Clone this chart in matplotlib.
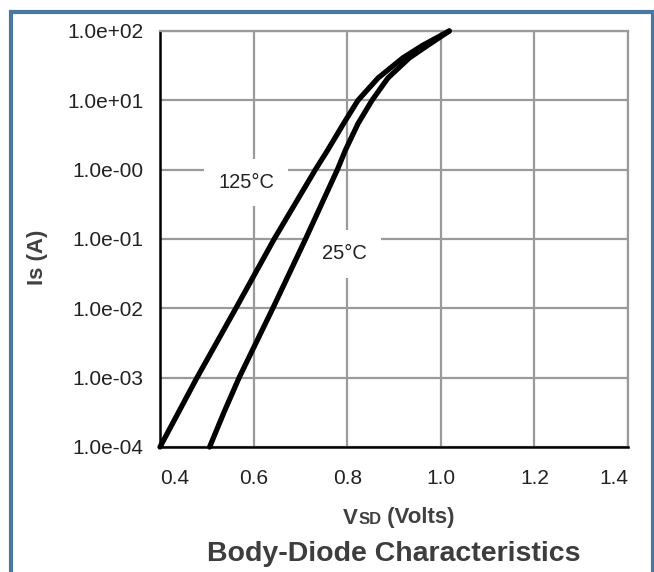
import numpy as np
import matplotlib
matplotlib.use("Agg")
import matplotlib.pyplot as plt
from matplotlib.patches import Rectangle
from matplotlib.offsetbox import TextArea, HPacker, AnnotationBbox

plt.rcParams["font.family"] = ["Liberation Sans", "DejaVu Sans"]

# curves: Is (A) vs VSD (V)
is_125 = [1e-4, 1e-3, 1e-2, 1e-1, 1e0, 1.9, 4.6, 10, 21, 41, 62, 100]
vsd_125 = [0.400, 0.479, 0.562, 0.644, 0.732, 0.758, 0.792, 0.823, 0.866, 0.919, 0.961, 1.018]
is_25 = [1e-4, 3.2e-4, 1e-3, 1e-2, 1e-1, 1e0, 1.9, 4.6, 10, 21, 41, 62, 100]
vsd_25 = [0.506, 0.537, 0.569, 0.641, 0.711, 0.779, 0.796, 0.823, 0.853, 0.887, 0.933, 0.972, 1.018]

x_ticks = [0.4, 0.6, 0.8, 1.0, 1.2, 1.4]
x_labels = ["0.4", "0.6", "0.8", "1.0", "1.2", "1.4"]
y_ticks = [1e-4, 1e-3, 1e-2, 1e-1, 1e0, 1e1, 1e2]
y_labels = ["1.0e-04", "1.0e-03", "1.0e-02", "1.0e-01", "1.0e-00", "1.0e+01", "1.0e+02"]

W, H = 654, 572
fig = plt.figure(figsize=(W / 100, H / 100), dpi=100)
ax = fig.add_axes([160 / W, 1 - 447 / H, 468 / W, 416 / H])

grid_c = "#9a9a9a"
txt_c = "#222222"
lab_c = "#404040"

ax.set_yscale("log")
ax.set_xlim(0.4, 1.4)
ax.set_ylim(1e-4, 1e2)
ax.set_xticks(x_ticks)
ax.set_xticklabels(x_labels)
ax.set_yticks(y_ticks)
ax.set_yticklabels(y_labels)
ax.yaxis.set_minor_locator(matplotlib.ticker.NullLocator())
ax.tick_params(axis="both", length=0, labelsize=15, labelcolor=txt_c)
ax.tick_params(axis="x", pad=16)
ax.tick_params(axis="y", pad=12)
tl = ax.get_xticklabels()
tl[0].set_ha("left")
tl[-1].set_ha("right")

ax.grid(True, color=grid_c, lw=1.6, zorder=0)
ax.set_axisbelow(True)
for s in ("top", "right"):
    ax.spines[s].set_color(grid_c)
    ax.spines[s].set_linewidth(1.6)
for s in ("left", "bottom"):
    ax.spines[s].set_color("black")
    ax.spines[s].set_linewidth(1.8)

ax.plot(vsd_125, is_125, color="black", lw=3.8, solid_capstyle="round",
        solid_joinstyle="round", zorder=3, clip_on=False)
ax.plot(vsd_25, is_25, color="black", lw=3.8, solid_capstyle="round",
        solid_joinstyle="round", zorder=3, clip_on=False)

box = dict(boxstyle="square,pad=0.7", fc="white", ec="none")
ax.text(0.584, 0.65, "125°C", fontsize=14.5, ha="center", va="center",
        color=txt_c, bbox=box, zorder=2)
ax.text(0.795, 0.0608, "25°C", fontsize=14.5, ha="center", va="center",
        color=txt_c, bbox=box, zorder=2)

fig.text(37 / W, 1 - 257 / H, "Is (A)", fontsize=16, fontweight="bold",
         color=lab_c, rotation=90, ha="center", va="center")

# x label with small "SD"
parts = [
    TextArea("V", textprops=dict(fontsize=16, fontweight="bold", color=lab_c)),
    TextArea("SD", textprops=dict(fontsize=12, fontweight="bold", color=lab_c)),
    TextArea(" (Volts)", textprops=dict(fontsize=16, fontweight="bold", color=lab_c)),
]
pack = HPacker(children=parts, align="baseline", pad=0, sep=0)
ab = AnnotationBbox(pack, (399 / W, 1 - 518 / H), xycoords="figure fraction",
                    frameon=False, box_alignment=(0.5, 0.5))
fig.add_artist(ab)

fig.text(394 / W, 1 - 561 / H, "Body-Diode Characteristics", fontsize=20.5,
         fontweight="bold", color="#3d3d3d", ha="center", va="baseline")

# blue frame
fig.patches.append(Rectangle((11 / W, -0.05), (652.5 - 11) / W, 1.05 - 12 / H,
                             transform=fig.transFigure, fill=False,
                             ec="#4a76a3", lw=3))

fig.savefig("out.png", dpi=100)
